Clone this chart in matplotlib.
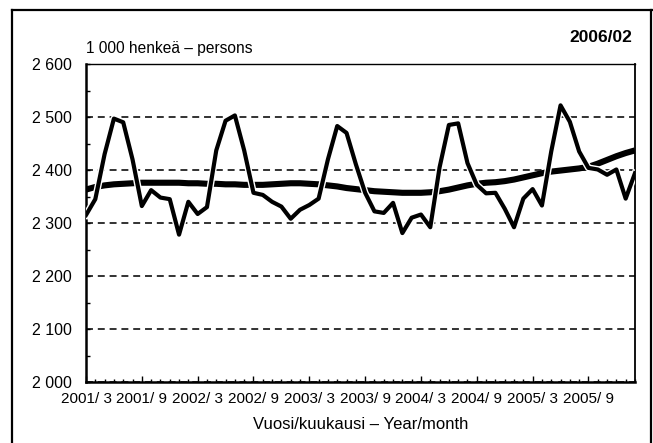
"""Employed persons, monthly series and trend, 2001/3 - 2006/2."""

import matplotlib

matplotlib.use("Agg")
import matplotlib.patheffects as pe
import matplotlib.pyplot as plt
from matplotlib.lines import Line2D
from matplotlib.ticker import FixedLocator, MultipleLocator

plt.rcParams["font.family"] = ["Liberation Sans", "DejaVu Sans"]
plt.rcParams["lines.scale_dashes"] = False

# monthly values, 1 000 persons, 2001/3 ... 2006/2
employed = [
    2315, 2345, 2430, 2497, 2490, 2420, 2332, 2362, 2348, 2345, 2278, 2340,
    2317, 2330, 2437, 2493, 2503, 2437, 2357, 2353, 2340, 2331, 2308, 2325,
    2334, 2346, 2420, 2483, 2470, 2411, 2357, 2322, 2319, 2338, 2281, 2310,
    2316, 2292, 2405, 2485, 2488, 2413, 2372, 2356, 2357, 2327, 2292, 2346,
    2364, 2333, 2435, 2522, 2491, 2435, 2404, 2401, 2391, 2401, 2346, 2394,
]
trend = [
    2363, 2368, 2371, 2373, 2374, 2375, 2376, 2376, 2376, 2376, 2376, 2375,
    2375, 2374, 2374, 2373, 2373, 2372, 2372, 2372, 2373, 2374, 2375, 2375,
    2374, 2373, 2371, 2369, 2366, 2364, 2362, 2360, 2359, 2358, 2357, 2357,
    2357, 2358, 2360, 2363, 2367, 2371, 2374, 2376, 2377, 2379, 2382, 2386,
    2390, 2394, 2397, 2399, 2401, 2403, 2406, 2412, 2419, 2426, 2432, 2437,
]
x_tick_labels = ["2001/ 3", "2001/ 9", "2002/ 3", "2002/ 9", "2003/ 3",
                 "2003/ 9", "2004/ 3", "2004/ 9", "2005/ 3", "2005/ 9"]
y_ticks = [2000, 2100, 2200, 2300, 2400, 2500, 2600]
y_tick_labels = ["2 000", "2 100", "2 200", "2 300", "2 400", "2 500", "2 600"]

fig = plt.figure(figsize=(6.53, 4.43), dpi=100)
ax = fig.add_axes([0.1317, 0.1377, 0.8407, 0.7178])

months = list(range(len(employed)))
ax.plot(months, trend, color="black", lw=4.4, solid_capstyle="butt", zorder=3)
ax.plot(months, employed, color="black", lw=3.0, zorder=4,
        path_effects=[pe.Stroke(linewidth=5.0, foreground="white"), pe.Normal()])

ax.set_xlim(0, len(months) - 1)
ax.set_ylim(y_ticks[0], y_ticks[-1])

ax.set_yticks(y_ticks)
ax.set_yticklabels(y_tick_labels)
ax.yaxis.set_minor_locator(MultipleLocator(50))
ax.set_xticks(range(0, len(months), 6))
ax.set_xticklabels(x_tick_labels)
ax.xaxis.set_minor_locator(MultipleLocator(1))

ax.tick_params(axis="y", which="major", direction="in", length=3, width=1,
               labelsize=11.5, pad=10)
ax.tick_params(axis="y", which="minor", direction="in", length=3, width=1)
ax.tick_params(axis="x", which="major", direction="in", length=4, width=1,
               labelsize=11, pad=7)
ax.tick_params(axis="x", which="minor", direction="in", length=2, width=1)

ax.yaxis.grid(True, which="major", color="#222222", lw=1.3, dashes=(5, 3.5))
ax.set_axisbelow(True)

for side, width in (("left", 1.8), ("bottom", 1.8), ("top", 1.0), ("right", 1.3)):
    ax.spines[side].set_linewidth(width)
    ax.spines[side].set_color("black")

ax.set_xlabel("Vuosi/kuukausi – Year/month", fontsize=12, labelpad=8)

fig.text(0.1317, 0.880, "1 000 henkeä – persons", fontsize=11.2, va="baseline", ha="left")
fig.text(0.968, 0.905, "2006/02", fontsize=12.5, fontweight="bold", va="baseline", ha="right")

# outer frame round the chart
frame = dict(color="black", lw=1.6, transform=fig.transFigure)
fig.add_artist(Line2D([0.0184, 0.0184], [0.0, 0.9774], **frame))
fig.add_artist(Line2D([0.0184, 1.0], [0.9774, 0.9774], **frame))
fig.add_artist(Line2D([0.997, 0.997], [0.0, 0.9774], **frame))

fig.savefig("out.png", dpi=100)
plt.close(fig)
